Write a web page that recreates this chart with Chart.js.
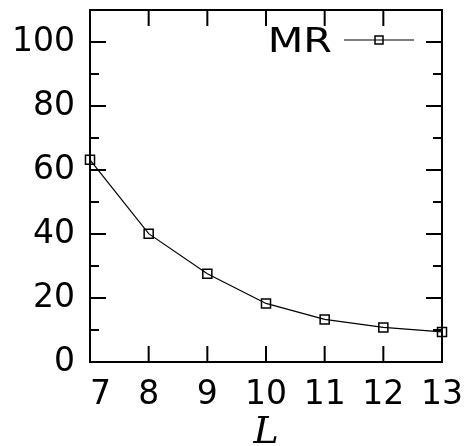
<!DOCTYPE html>
<html><head><meta charset="utf-8">
<script src="https://cdn.jsdelivr.net/npm/chart.js@4/dist/chart.umd.min.js"></script>
<style>html,body{margin:0;padding:0;background:#fff}#wrap{width:466px;height:446px;position:relative}</style>
</head><body><div id="wrap"><canvas id="c" width="466" height="446"></canvas></div>
<script>
const L_values = [7, 8, 9, 10, 11, 12, 13];
const MR = [63.2, 40.1, 27.6, 18.3, 13.3, 10.8, 9.4];
const xTicks = [7, 8, 9, 10, 11, 12, 13];
const yTicks = [0, 20, 40, 60, 80, 100];
const yMinorTicks = [10, 30, 50, 70, 90];
const seriesName = 'MR';
const xTitle = 'L';

const FONT = 'DejaVu Sans';
const FSIZE = 33;

const framePlugin = {
  id: 'frame',
  afterDatasetsDraw(chart) {
    const {ctx, chartArea: a, scales: {x, y}} = chart;
    ctx.save();
    ctx.strokeStyle = '#000';
    ctx.lineWidth = 2;
    ctx.lineCap = 'butt';
    ctx.beginPath();
    const major = 16, minor = 9;
    xTicks.forEach(v => {
      if (v === xTicks[0] || v === xTicks[xTicks.length - 1]) return;
      const px = x.getPixelForValue(v);
      ctx.moveTo(px, a.bottom); ctx.lineTo(px, a.bottom - major);
      ctx.moveTo(px, a.top); ctx.lineTo(px, a.top + major);
    });
    yTicks.forEach(v => {
      if (v === 0) return;
      const py = y.getPixelForValue(v);
      ctx.moveTo(a.left, py); ctx.lineTo(a.left + major, py);
      ctx.moveTo(a.right, py); ctx.lineTo(a.right - major, py);
    });
    yMinorTicks.forEach(v => {
      const py = y.getPixelForValue(v);
      ctx.moveTo(a.left, py); ctx.lineTo(a.left + minor, py);
      ctx.moveTo(a.right, py); ctx.lineTo(a.right - minor, py);
    });
    ctx.stroke();
    ctx.strokeRect(a.left, a.top, a.right - a.left, a.bottom - a.top);

    // legend: text then line sample with marker
    const ly = a.top + 30;
    const lx2 = a.right - 28, lx1 = lx2 - 70;
    ctx.lineWidth = 1.2;
    ctx.beginPath(); ctx.moveTo(lx1, ly); ctx.lineTo(lx2, ly); ctx.stroke();
    ctx.lineWidth = 1.5;
    const cx = (lx1 + lx2) / 2;
    ctx.strokeRect(cx - 4, ly - 4, 8, 8);
    ctx.fillStyle = '#000';
    ctx.font = FSIZE + 'px "' + FONT + '"';
    ctx.textAlign = 'right';
    ctx.textBaseline = 'alphabetic';
    ctx.translate(lx1 - 12, a.top + 42);
    ctx.scale(1.25, 1);
    ctx.fillText(seriesName, 0, 0);
    ctx.restore();
  }
};

new Chart(document.getElementById('c'), {
  type: 'line',
  data: {
    datasets: [{
      label: seriesName,
      data: L_values.map((v, i) => ({x: v, y: MR[i]})),
      borderColor: '#000',
      borderWidth: 1.2,
      tension: 0,
      pointStyle: 'rect',
      pointRadius: 6.4,
      pointHoverRadius: 6.4,
      pointBorderWidth: 1.5,
      pointBorderColor: '#000',
      pointBackgroundColor: 'rgba(0,0,0,0)',
      clip: false
    }]
  },
  options: {
    responsive: false,
    animation: false,
    devicePixelRatio: 1,
    layout: {padding: {top: 10, right: 24, left: 0, bottom: 0}},
    plugins: {legend: {display: false}, tooltip: {enabled: false}},
    events: [],
    scales: {
      x: {
        type: 'linear', min: 7, max: 13,
        afterBuildTicks: s => { s.ticks = xTicks.map(v => ({value: v})); },
        afterFit: s => { s.height = 84; s.paddingLeft = 0; s.paddingRight = 0; },
        grid: {display: false, drawTicks: false},
        border: {display: false},
        ticks: {
          color: '#000', padding: 14, maxRotation: 0, autoSkip: false,
          font: {family: FONT, size: FSIZE},
          callback: v => (v === 7 ? '\u2007' + v : String(v))
        },
        title: {
          display: true, text: xTitle, color: '#000',
          font: {family: 'DejaVu Serif', size: 38, style: 'italic', lineHeight: 0.8},
          padding: {top: 0, bottom: -2}
        }
      },
      y: {
        type: 'linear', min: 0, max: 110,
        afterBuildTicks: s => { s.ticks = yTicks.map(v => ({value: v})); },
        afterFit: s => { s.width = 90; s.paddingTop = 0; s.paddingBottom = 0; },
        grid: {display: false, drawTicks: false},
        border: {display: false},
        ticks: {
          color: '#000', padding: 15,
          font: {family: FONT, size: FSIZE}
        }
      }
    }
  },
  plugins: [framePlugin]
});
</script>
</body></html>
